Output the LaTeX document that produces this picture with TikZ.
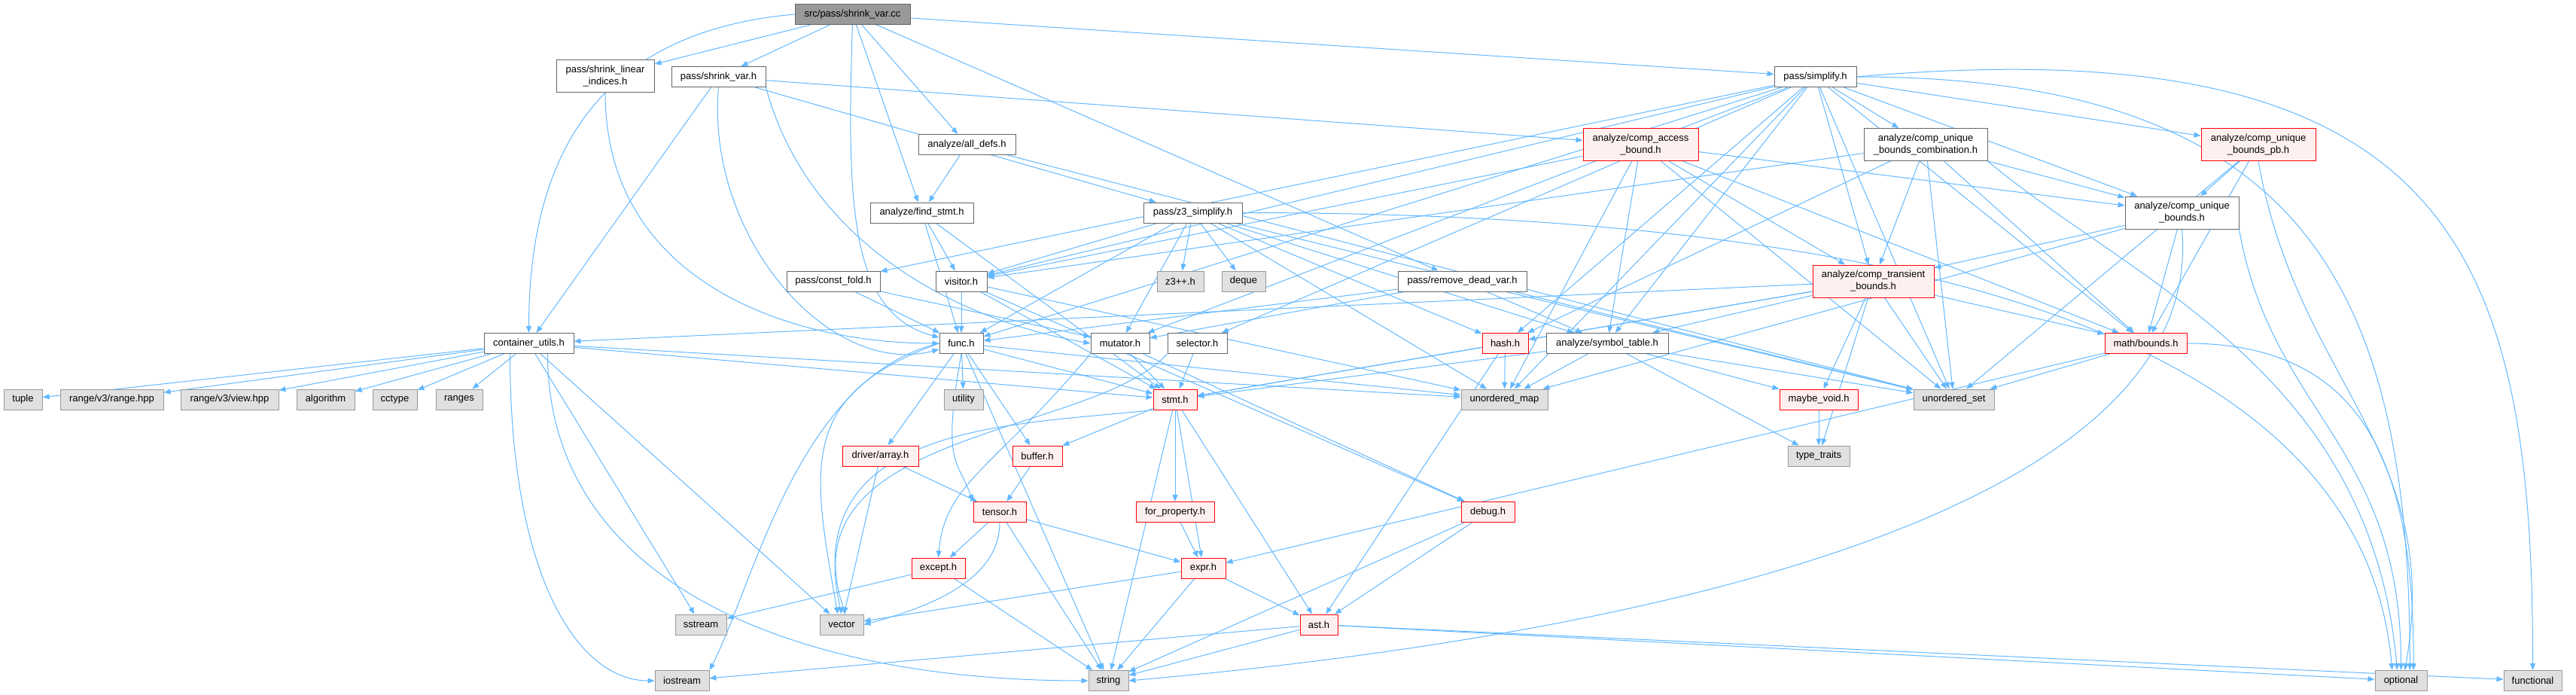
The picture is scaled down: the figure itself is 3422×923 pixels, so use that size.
\documentclass[tikz,border=0pt]{standalone}
\usepackage{fontspec}
\setmainfont{Liberation Sans}
\usepackage{tikz}
\usetikzlibrary{arrows.meta,backgrounds}
\definecolor{edgeblue}{HTML}{63B8FF}
\definecolor{boxgrey}{HTML}{666666}
\definecolor{sysgrey}{HTML}{999999}
\definecolor{sysfill}{HTML}{E0E0E0}
\definecolor{truncred}{HTML}{FF0000}
\definecolor{truncfill}{HTML}{FFF0F0}
\definecolor{rootfill}{HTML}{999999}

\begin{document}
\begin{tikzpicture}[
    x=1pt, y=-1pt,
    font=\fontsize{13}{16}\selectfont,
    hfile/.style={draw=boxgrey, fill=white, line width=1pt, inner sep=0pt, minimum height=27pt, align=center},
    tall/.style={minimum height=43pt},
    rootfile/.style={hfile, fill=rootfill},
    trunc/.style={hfile, draw=truncred, fill=truncfill},
    sysfile/.style={hfile, draw=sysgrey, fill=sysfill},
    incl/.style={draw=edgeblue, line width=1pt, -{Triangle[length=9pt,width=7pt]}}
]
\useasboundingbox (0,0) rectangle (3422,923);

% top rows
\node[rootfile, minimum width=153pt] (root) at (1132.5,19) {src/pass/shrink\_var.cc};
\node[hfile, tall, minimum width=130pt] (sli) at (804,101.5) {pass/shrink\_linear\\\_indices.h};
\node[hfile, minimum width=125pt] (svh) at (954.5,102) {pass/shrink\_var.h};
\node[hfile, minimum width=109pt] (simp) at (2411.5,102) {pass/simplify.h};
\node[hfile, minimum width=129pt] (alldefs) at (1284.5,192) {analyze/all\_defs.h};
\node[trunc, tall, minimum width=153pt] (cab) at (2179.5,192) {analyze/comp\_access\\\_bound.h};
\node[hfile, tall, minimum width=164pt] (cubc) at (2558,192) {analyze/comp\_unique\\\_bounds\_combination.h};
\node[trunc, tall, minimum width=152pt] (cubpb) at (3000,192) {analyze/comp\_unique\\\_bounds\_pb.h};
\node[hfile, minimum width=137pt] (findstmt) at (1224.5,282.5) {analyze/find\_stmt.h};
\node[hfile, minimum width=131pt] (z3s) at (1584.5,282.5) {pass/z3\_simplify.h};
\node[hfile, tall, minimum width=151pt] (cub) at (2898.5,282.5) {analyze/comp\_unique\\\_bounds.h};
\node[hfile, minimum width=124pt] (cfold) at (1107,373.5) {pass/const\_fold.h};
\node[hfile, minimum width=68pt] (visitor) at (1277,373.5) {visitor.h};
\node[sysfile, minimum width=62pt] (z3pp) at (1568,373.5) {z3++.h};
\node[sysfile, minimum width=58pt] (deque) at (1652,373.5) {deque};
\node[hfile, minimum width=171pt] (rdv) at (1942.5,373.5) {pass/remove\_dead\_var.h};
\node[trunc, tall, minimum width=161pt] (ctb) at (2488.5,373.5) {analyze/comp\_transient\\\_bounds.h};

% middle rows
\node[hfile, minimum width=119pt] (cu) at (702.5,456) {container\_utils.h};
\node[hfile, minimum width=58pt] (func) at (1277,456) {func.h};
\node[hfile, minimum width=78pt] (mutator) at (1488,456) {mutator.h};
\node[hfile, minimum width=79pt] (selector) at (1590.5,456) {selector.h};
\node[trunc, minimum width=61pt] (hash) at (1999.5,456) {hash.h};
\node[hfile, minimum width=162pt] (symtab) at (2135,456) {analyze/symbol\_table.h};
\node[trunc, minimum width=109pt] (mbounds) at (2850.5,456) {math/bounds.h};

\node[sysfile, minimum width=51pt] (tuple) at (30.5,530.5) {tuple};
\node[sysfile, minimum width=137pt] (rangehpp) at (148.5,530.5) {range/v3/range.hpp};
\node[sysfile, minimum width=130pt] (viewhpp) at (305,530.5) {range/v3/view.hpp};
\node[sysfile, minimum width=77pt] (algorithm) at (432.5,530.5) {algorithm};
\node[sysfile, minimum width=59pt] (cctype) at (524.5,530.5) {cctype};
\node[sysfile, minimum width=62pt] (ranges) at (610,530.5) {ranges};
\node[sysfile, minimum width=52pt] (utility) at (1280,530.5) {utility};
\node[trunc, minimum width=58pt] (stmt) at (1561,530.5) {stmt.h};
\node[sysfile, minimum width=115pt] (umap) at (1998.5,530.5) {unordered\_map};
\node[trunc, minimum width=104pt] (maybevoid) at (2416,530.5) {maybe\_void.h};
\node[sysfile, minimum width=107pt] (uset) at (2595.5,530.5) {unordered\_set};

% lower rows
\node[trunc, minimum width=101pt] (array) at (1169.5,605.5) {driver/array.h};
\node[trunc, minimum width=66pt] (buffer) at (1378,605.5) {buffer.h};
\node[sysfile, minimum width=82pt] (typetraits) at (2416,605.5) {type\_traits};
\node[trunc, minimum width=70pt] (tensor) at (1328,680) {tensor.h};
\node[trunc, minimum width=104pt] (forprop) at (1561,680) {for\_property.h};
\node[trunc, minimum width=71pt] (debug) at (1976.5,680) {debug.h};
\node[trunc, minimum width=71pt] (except) at (1246.5,754.5) {except.h};
\node[trunc, minimum width=59pt] (expr) at (1598.5,754.5) {expr.h};
\node[sysfile, minimum width=68pt] (sstream) at (931,829.5) {sstream};
\node[sysfile, minimum width=58pt] (vector) at (1118,829.5) {vector};
\node[trunc, minimum width=50pt] (ast) at (1752,829.5) {ast.h};
\node[sysfile, minimum width=72pt] (iostream) at (906,904) {iostream};
\node[sysfile, minimum width=53pt] (string) at (1472.5,904) {string};
\node[sysfile, minimum width=69pt] (optional) at (3189.5,904) {optional};
\node[sysfile, minimum width=77pt] (functional) at (3364.5,904) {functional};

\begin{scope}[on background layer]
\foreach \a/\b in {root/sli, root/svh, root/alldefs, root/findstmt, root/simp, root/rdv,
    svh/cu, svh/cab, svh/z3s,
    simp/cubc, simp/cubpb, simp/cub, simp/ctb, simp/mbounds, simp/symtab, simp/hash,
    simp/visitor, simp/func, simp/mutator, simp/selector, simp/cfold, simp/umap, simp/uset,
    alldefs/findstmt, alldefs/uset,
    cab/ctb, cab/cub, cab/symtab, cab/mbounds, cab/visitor, cab/umap, cab/uset,
    cubc/cub, cubc/ctb, cubc/mbounds, cubc/hash, cubc/uset, cubc/visitor,
    cubpb/cub, cubpb/mbounds, cubpb/uset,
    findstmt/visitor, findstmt/func, findstmt/stmt,
    z3s/visitor, z3s/func, z3s/mutator, z3s/z3pp, z3s/deque, z3s/hash, z3s/symtab, z3s/umap, z3s/uset,
    cub/ctb, cub/mbounds, cub/umap,
    cfold/func, cfold/mutator,
    visitor/func, visitor/stmt, visitor/debug, visitor/umap,
    rdv/func, rdv/mutator, rdv/symtab, rdv/uset,
    ctb/cu, ctb/hash, ctb/symtab, ctb/mbounds, ctb/maybevoid, ctb/typetraits, ctb/uset, ctb/stmt,
    cu/tuple, cu/rangehpp, cu/viewhpp, cu/algorithm, cu/cctype, cu/ranges, cu/umap, cu/stmt, cu/sstream, cu/vector,
    func/utility, func/array, func/buffer, func/stmt, func/string, func/umap,
    mutator/stmt, mutator/debug,
    selector/stmt,
    hash/umap, hash/stmt, hash/ast,
    symtab/stmt, symtab/umap, symtab/uset, symtab/maybevoid, symtab/typetraits,
    mbounds/uset, mbounds/expr,
    stmt/buffer, stmt/forprop, stmt/expr, stmt/ast, stmt/string,
    maybevoid/typetraits, array/tensor, array/vector, buffer/tensor,
    tensor/except, tensor/expr, tensor/string,
    forprop/expr, debug/ast, debug/string, except/sstream, except/string,
    expr/vector, expr/string, expr/ast,
    ast/iostream, ast/string, ast/optional, ast/functional}
  \draw[incl] (\a) -- (\b);

% routed edges
\draw[incl] (root.west) .. controls +(185:250pt) and +(90:250pt) .. (cu.north);
\draw[incl] (root.south) .. controls +(-92:250pt) and +(165:120pt) .. (func.165);
\draw[incl] (sli.south) .. controls +(-90:250pt) and +(180:200pt) .. (func.west);
\draw[incl] (svh.south) .. controls +(-95:200pt) and +(195:150pt) .. (func.195);
\draw[incl] (svh.south east) .. controls +(-75:200pt) and +(170:200pt) .. (mutator.west);
\draw[incl] (simp.east) .. controls +(0:600pt) and +(90:500pt) .. (optional.50);
\draw[incl] (simp.east) .. controls +(5:800pt) and +(90:550pt) .. (functional.north);
\draw[incl] (z3s.east) .. controls +(0:1000pt) and +(95:400pt) .. (optional.130);
\draw[incl] (cubc.south east) .. controls +(-40:250pt) and +(95:400pt) .. (optional.110);
\draw[incl] (cubpb.south) .. controls +(-80:300pt) and +(80:300pt) .. (optional.70);
\draw[incl] (cub.south east) .. controls +(-80:250pt) and +(90:300pt) .. (optional.north);
\draw[incl] (mbounds.east) .. controls +(0:250pt) and +(90:250pt) .. (optional.40);
\draw[incl] (cub.south) .. controls +(-85:400pt) and +(5:600pt) .. (string.east);
\draw[incl] ([xshift=-25pt]cu.south) .. controls +(-90:300pt) and +(180:100pt) .. (iostream.west);
\draw[incl] ([xshift=25pt]cu.south) .. controls +(-90:300pt) and +(180:400pt) .. (string.west);
\draw[incl] (func.west) .. controls (1060,500) and (1000,780) .. (iostream.north east);
\draw[incl] (func.west) .. controls +(200:200pt) and +(100:200pt) .. (vector.110);
\draw[incl] (func.south) .. controls +(-100:150pt) and +(110:60pt) .. (tensor.north west);
\draw[incl] (mutator.south west) .. controls +(-130:200pt) and +(85:100pt) .. (except.north);
\draw[incl] (tensor.south) .. controls +(-90:80pt) and +(15:80pt) .. (vector.east);
\draw[incl] (stmt.south west) .. controls (1350,565) and (1060,560) .. (vector.north);
\draw[incl] (selector.south west) .. controls (1450,580) and (1040,570) .. (vector.70);
\end{scope}
\end{tikzpicture}
\end{document}
